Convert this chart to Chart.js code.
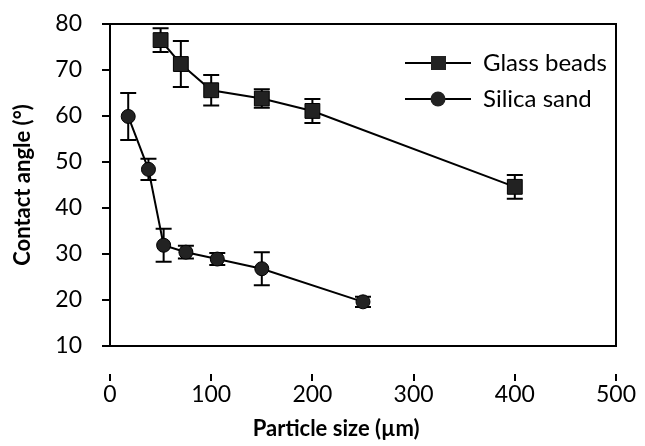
<!DOCTYPE html>
<html>
<head>
<meta charset="utf-8">
<script src="https://cdn.jsdelivr.net/npm/chart.js@4"></script>
<style>
  html, body { margin: 0; padding: 0; background: #fff; }
  #wrap { width: 645px; height: 446px; }
</style>
</head>
<body>
<div id="wrap"><canvas id="chart-contact"></canvas></div>
<script>
// values
const glassSize = [50, 70, 100, 150, 200, 400]
const glassAngle = [76.5, 71.3, 65.6, 63.8, 61.1, 44.6]
const glassErr = [2.6, 5.0, 3.3, 2.0, 2.6, 2.6]

const sandSize = [18, 38, 53, 75, 106, 150, 250]
const sandAngle = [59.9, 48.4, 31.9, 30.4, 28.9, 26.8, 19.6]
const sandErr = [5.1, 2.3, 3.6, 1.4, 1.3, 3.6, 1.1]

const seriesNames = ["Glass beads", "Silica sand"]
const xLabel = "Particle size (µm)"
const yLabel = "Contact angle (°)"

const toPoints = (xs, ys) => xs.map((x, i) => ({ x, y: ys[i] }))

// little "—■—" icons for the legend
function legendIcon(style) {
  const c = document.createElement("canvas")
  c.width = 66
  c.height = 18
  const g = c.getContext("2d")
  g.strokeStyle = "#000"
  g.lineWidth = 2
  g.beginPath()
  g.moveTo(0, 9)
  g.lineTo(66, 9)
  g.stroke()
  g.fillStyle = "#222"
  if (style === "rect") {
    g.fillRect(26, 2, 15, 14)
  } else {
    g.beginPath()
    g.arc(33, 9, 7.5, 0, Math.PI * 2)
    g.fill()
  }
  return c
}
const icons = [legendIcon("rect"), legendIcon("circle")]

const errorBars = {
  id: "errorBars",
  beforeDatasetsDraw(chart) {
    const { ctx, scales: { x, y } } = chart
    ctx.save()
    ctx.strokeStyle = "#000"
    ctx.lineWidth = 2
    chart.data.datasets.forEach(ds => {
      ds.data.forEach((p, i) => {
        const px = x.getPixelForValue(p.x)
        const top = y.getPixelForValue(p.y + ds.errors[i])
        const bot = y.getPixelForValue(p.y - ds.errors[i])
        ctx.beginPath()
        ctx.moveTo(px, top); ctx.lineTo(px, bot)
        ctx.moveTo(px - 8, top); ctx.lineTo(px + 8, top)
        ctx.moveTo(px - 8, bot); ctx.lineTo(px + 8, bot)
        ctx.stroke()
      })
    })
    ctx.restore()
  }
}

// top and right edges of the plot box
const frame = {
  id: "frame",
  beforeDatasetsDraw(chart) {
    const { ctx, chartArea: a } = chart
    ctx.save()
    ctx.strokeStyle = "#000"
    ctx.lineWidth = 2
    ctx.beginPath()
    ctx.moveTo(a.left, a.top)
    ctx.lineTo(a.right, a.top)
    ctx.lineTo(a.right, a.bottom)
    ctx.stroke()
    ctx.restore()
  }
}

// legend sits inside the plot, top right
const legendPlace = {
  id: "legendPlace",
  afterLayout(chart) {
    const lg = chart.legend
    const a = chart.chartArea
    const w = lg.width
    lg.left = a.left + 283
    lg.right = lg.left + w
    lg.top = a.top + 15
  }
}

const xTitle = {
  id: "xTitle",
  afterDraw(chart) {
    const { ctx, chartArea: a } = chart
    ctx.save()
    ctx.font = "bold 22px Lato"
    ctx.fillStyle = "#000"
    ctx.textAlign = "center"
    ctx.textBaseline = "middle"
    ctx.fillText(xLabel, a.left + a.width * 0.447, a.bottom + 83)
    ctx.restore()
  }
}

// long tick slot (keeps labels away), only the 8px next to the axis is inked
const tickGrid = len => ({
  drawOnChartArea: false,
  drawTicks: true,
  tickLength: len,
  tickBorderDash: [0, len - 8, 8, 400],
  color: "#000",
  lineWidth: 2
})

new Chart(document.getElementById("chart-contact"), {
  type: "scatter",
  data: {
    datasets: [{
      label: seriesNames[0],
      data: toPoints(glassSize, glassAngle),
      errors: glassErr,
      showLine: true,
      borderColor: "#000",
      borderWidth: 2,
      pointStyle: "rect",
      pointRadius: 10.5,
      pointBackgroundColor: "#222",
      pointBorderColor: "#000",
      pointBorderWidth: 1
    }, {
      label: seriesNames[1],
      data: toPoints(sandSize, sandAngle),
      errors: sandErr,
      showLine: true,
      borderColor: "#000",
      borderWidth: 2,
      pointStyle: "circle",
      pointRadius: 7,
      pointBackgroundColor: "#222",
      pointBorderColor: "#000",
      pointBorderWidth: 1
    }]
  },
  options: {
    responsive: true,
    maintainAspectRatio: false,
    animation: false,
    layout: { padding: { left: 0, top: 24, right: 29, bottom: 0 } },
    scales: {
      x: {
        min: 0,
        max: 500,
        ticks: { stepSize: 100, color: "#000", padding: 0, font: { family: "Lato", size: 23 } },
        grid: tickGrid(35),
        border: { color: "#000", width: 2 },
        afterFit: s => { s.height = 100 }
      },
      y: {
        min: 10,
        max: 80,
        ticks: { stepSize: 10, color: "#000", padding: 0, font: { family: "Lato", size: 23 } },
        grid: tickGrid(28),
        border: { color: "#000", width: 2 },
        title: { display: true, text: yLabel, color: "#000", padding: { top: 10, bottom: 0 }, font: { family: "Lato", size: 22, weight: "bold" } },
        afterFit: s => { s.width = 110 }
      }
    },
    plugins: {
      tooltip: { enabled: false },
      legend: {
        position: "chartArea",
        align: "start",
        labels: {
          usePointStyle: true,
          pointStyleWidth: 66,
          padding: 12,
          color: "#000",
          font: { family: "Lato", size: 24 },
          generateLabels: chart => Chart.defaults.plugins.legend.labels.generateLabels(chart)
            .map((item, i) => ({ ...item, pointStyle: icons[i] }))
        }
      }
    }
  },
  plugins: [errorBars, frame, legendPlace, xTitle]
})
</script>
</body>
</html>
